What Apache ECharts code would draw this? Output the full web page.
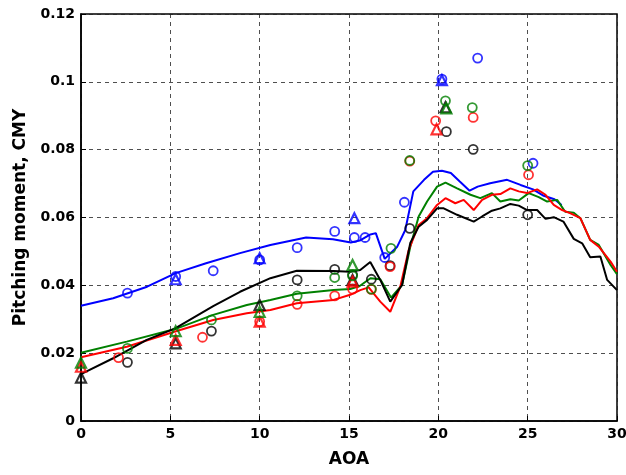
<!DOCTYPE html>
<html>
<head>
<meta charset="utf-8">
<script src="https://cdn.jsdelivr.net/npm/echarts@6/dist/echarts.min.js"></script>
<style>
html,body{margin:0;padding:0;background:#fff;}
#chart{width:626px;height:475px;}
</style>
</head>
<body>
<div id="chart"></div>
<script>
// ---- Tick labels ----
const xTicks = [0, 5, 10, 15, 20, 25, 30];
const yTicks = ['0', '0.02', '0.04', '0.06', '0.08', '0.1', '0.12'];

// ---- CFD-like lines ----
const blueLineAoa = [0, 1.8, 3.7, 5.3, 7.0, 8.9, 10.6, 12.6, 14.1, 15.1, 15.6, 16.2, 16.5, 17.0, 17.7, 18.15, 18.6, 19.2, 19.7, 20.2, 20.7, 21.2, 21.75, 22.2, 22.9, 23.85, 24.6, 25.3, 25.9, 26.5, 26.9];
const blueLineCm  = [0.0340, 0.0362, 0.0396, 0.0436, 0.0465, 0.0495, 0.0519, 0.0541, 0.0536, 0.0526, 0.0532, 0.0550, 0.0554, 0.0478, 0.0514, 0.0563, 0.0677, 0.0711, 0.0735, 0.0738, 0.0731, 0.0706, 0.0679, 0.0691, 0.0701, 0.0711, 0.0696, 0.0683, 0.0664, 0.0654, 0.0637];

const greenLineAoa = [0, 2.56, 5.27, 7.4, 9.28, 10.6, 12.08, 14.14, 15.07, 15.6, 16.2, 16.75, 17.35, 17.97, 18.43, 18.9, 19.37, 19.93, 20.4, 21.05, 21.8, 22.35, 23.0, 23.47, 24.03, 24.5, 25.06, 25.62, 26.09, 26.65, 27.1, 27.58, 27.95, 28.5, 28.98, 29.64, 30];
const greenLineCm  = [0.0201, 0.0234, 0.0271, 0.0313, 0.0342, 0.0357, 0.0375, 0.0386, 0.0389, 0.0398, 0.0421, 0.0418, 0.0364, 0.0401, 0.0514, 0.0603, 0.0647, 0.0691, 0.0703, 0.0686, 0.0667, 0.0657, 0.0672, 0.0647, 0.0654, 0.0650, 0.0672, 0.0660, 0.0647, 0.0652, 0.0617, 0.0614, 0.0598, 0.0534, 0.0519, 0.0460, 0.0433];

const redLineAoa = [0, 2.56, 5.27, 7.4, 9.28, 10.6, 12.08, 14.14, 15.07, 15.63, 16.1, 16.75, 17.31, 17.87, 18.34, 18.9, 19.37, 19.93, 20.4, 20.95, 21.42, 21.98, 22.45, 23.0, 23.47, 24.03, 24.5, 24.97, 25.53, 26.0, 26.46, 26.93, 27.4, 27.95, 28.5, 28.98, 29.64, 30];
const redLineCm  = [0.0188, 0.0219, 0.0264, 0.0298, 0.0318, 0.0327, 0.0347, 0.0357, 0.0372, 0.0386, 0.0394, 0.0352, 0.0322, 0.0396, 0.0504, 0.0578, 0.0598, 0.0637, 0.0657, 0.0642, 0.0652, 0.0622, 0.0652, 0.0667, 0.0669, 0.0686, 0.0677, 0.0672, 0.0683, 0.0667, 0.0637, 0.0622, 0.0612, 0.0598, 0.0534, 0.0514, 0.0470, 0.0440];

const blackLineAoa = [0, 1.8, 3.68, 5.27, 7.4, 8.9, 10.6, 12.08, 14.14, 15.07, 15.63, 16.19, 16.75, 17.31, 17.97, 18.43, 18.9, 19.37, 19.93, 20.3, 21.05, 21.98, 22.45, 23.0, 23.47, 24.03, 24.5, 24.97, 25.53, 26.0, 26.46, 27.0, 27.58, 28.05, 28.5, 29.07, 29.45, 30];
const blackLineCm  = [0.0138, 0.0185, 0.0239, 0.0273, 0.0339, 0.0381, 0.0421, 0.0443, 0.0442, 0.0440, 0.0445, 0.0469, 0.0416, 0.0352, 0.0401, 0.0525, 0.0573, 0.0593, 0.0627, 0.0627, 0.0608, 0.0588, 0.0603, 0.0620, 0.0627, 0.0640, 0.0635, 0.0622, 0.0622, 0.0596, 0.0601, 0.0588, 0.0537, 0.0524, 0.0483, 0.0485, 0.0416, 0.0386];

// ---- Measured points: circles ----
const blueCircAoa = [2.6, 5.3, 7.4, 10.0, 12.1, 14.2, 15.3, 15.9, 17.0, 18.1, 20.2, 22.2, 25.3];
const blueCircCm  = [0.0377, 0.0426, 0.0443, 0.0475, 0.0511, 0.0559, 0.0541, 0.0541, 0.0482, 0.0645, 0.1008, 0.1070, 0.0760];
const greenCircAoa = [2.6, 7.3, 12.1, 14.2, 15.2, 16.25, 17.35, 18.4, 20.4, 21.9, 25.0];
const greenCircCm  = [0.0214, 0.0298, 0.0369, 0.0423, 0.0428, 0.0389, 0.0509, 0.0768, 0.0944, 0.0924, 0.0753];
const redCircAoa = [2.1, 6.8, 10.0, 12.1, 14.2, 15.2, 16.25, 17.3, 18.4, 19.85, 21.95, 25.05];
const redCircCm  = [0.0187, 0.0247, 0.0293, 0.0344, 0.0369, 0.0389, 0.0388, 0.0455, 0.0766, 0.0885, 0.0895, 0.0726];
const blackCircAoa = [2.6, 7.3, 12.1, 14.2, 15.2, 16.25, 17.3, 18.4, 20.45, 21.95, 25.0];
const blackCircCm  = [0.0173, 0.0265, 0.0416, 0.0447, 0.0431, 0.0418, 0.0458, 0.0568, 0.0853, 0.0801, 0.0608];

// ---- Measured points: triangles ----
const blueTriAoa = [5.3, 10.0, 15.3, 20.2];
const blueTriCm  = [0.0418, 0.0480, 0.0598, 0.1005];
const greenTriAoa = [0, 5.3, 10.0, 15.2, 20.45];
const greenTriCm  = [0.0172, 0.0265, 0.0322, 0.0460, 0.0922];
const redTriAoa = [0, 5.3, 10.0, 15.2, 19.9];
const redTriCm  = [0.0160, 0.0239, 0.0293, 0.0411, 0.0860];
const blackTriAoa = [0, 5.3, 10.0, 15.2, 20.4];
const blackTriCm  = [0.0128, 0.0229, 0.0342, 0.0416, 0.0925];

const zip = (a, b) => a.map((v, i) => [v, b[i]]);
const FONT = 'DejaVu Sans';

function lineSeries(x, y, c) {
  return { type: 'line', data: zip(x, y), showSymbol: false, symbol: 'none',
           lineStyle: { color: c, width: 2 }, z: 2 };
}
function markSeries(x, y, c, sym) {
  const tri = sym === 'triangle';
  return { type: 'scatter', data: zip(x, y), symbol: sym,
           symbolSize: tri ? 10 : 9,
           itemStyle: { color: 'rgba(0,0,0,0)', borderColor: c, borderWidth: tri ? 2.2 : 1.8 },
           z: 3 };
}

const chart = echarts.init(document.getElementById('chart'), null, { renderer: 'canvas' });
chart.setOption({
  animation: false,
  backgroundColor: '#fff',
  grid: { left: 81, right: 9, top: 14, bottom: 54, containLabel: false, outerBoundsMode: 'none',
          show: true, borderColor: '#000', borderWidth: 1.5, backgroundColor: 'transparent' },
  xAxis: {
    type: 'value', min: xTicks[0], max: xTicks[xTicks.length - 1], interval: 5,
    name: 'AOA', nameLocation: 'middle', nameGap: 30,
    nameTextStyle: { fontFamily: FONT, fontWeight: 'bold', fontSize: 17, color: '#000' },
    axisLine: { show: true, lineStyle: { color: '#000', width: 1.5 } },
    axisTick: { show: true, inside: true, length: 5, lineStyle: { color: '#000' } },
    axisLabel: { fontFamily: FONT, fontWeight: 'bold', fontSize: 14, color: '#000', margin: 6 },
    splitLine: { show: true, lineStyle: { color: '#222', width: 0.8, type: [4, 4] } }
  },
  yAxis: {
    type: 'value', min: 0, max: 0.12, interval: 0.02,
    name: 'Pitching moment, CMY', nameLocation: 'middle', nameGap: 51,
    nameTextStyle: { fontFamily: FONT, fontWeight: 'bold', fontSize: 17, color: '#000' },
    axisLine: { show: true, lineStyle: { color: '#000', width: 1.5 } },
    axisTick: { show: true, inside: true, length: 5, lineStyle: { color: '#000' } },
    axisLabel: { fontFamily: FONT, fontWeight: 'bold', fontSize: 14, color: '#000', margin: 6,
                 formatter: (v) => yTicks[Math.round(v / 0.02)] },
    splitLine: { show: true, lineStyle: { color: '#222', width: 0.8, type: [4, 4] } }
  },
  series: [
    lineSeries(blueLineAoa, blueLineCm, '#0000ff'),
    lineSeries(greenLineAoa, greenLineCm, '#008000'),
    lineSeries(redLineAoa, redLineCm, '#ff0000'),
    lineSeries(blackLineAoa, blackLineCm, '#000000'),
    markSeries(blueCircAoa, blueCircCm, '#0000ff', 'circle'),
    markSeries(blueTriAoa, blueTriCm, '#0000ff', 'triangle'),
    markSeries(blackCircAoa, blackCircCm, '#000000', 'circle'),
    markSeries(blackTriAoa, blackTriCm, '#000000', 'triangle'),
    markSeries(redCircAoa, redCircCm, '#ff0000', 'circle'),
    markSeries(redTriAoa, redTriCm, '#ff0000', 'triangle'),
    markSeries(greenCircAoa, greenCircCm, '#008000', 'circle'),
    markSeries(greenTriAoa, greenTriCm, '#008000', 'triangle')
  ]
});
</script>
</body>
</html>
